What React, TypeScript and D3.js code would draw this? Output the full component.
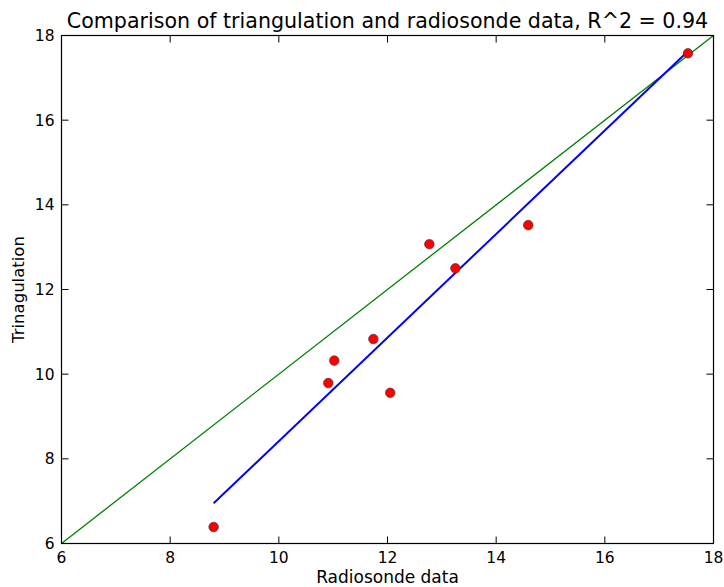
import React from "react";
import * as d3 from "d3";

const radiosonde = [8.80, 10.91, 11.02, 11.74, 12.05, 12.77, 13.25, 14.59, 17.53];
const triangulation = [6.39, 9.79, 10.32, 10.83, 9.56, 13.07, 12.50, 13.52, 17.58];
const fitX = [8.80, 17.53];
const fitY = [6.95, 17.63];
const identityX = [6, 18];
const identityY = [6, 18];
const xTicks = [6, 8, 10, 12, 14, 16, 18];
const yTicks = [6, 8, 10, 12, 14, 16, 18];
const title = "Comparison of triangulation and radiosonde data, R^2 = 0.94";
const xLabel = "Radiosonde data";
const yLabel = "Trinagulation";

const W = 724, H = 587;
const L = 61.5, R = 713.5, T = 35.5, B = 543.5;
const FONT = "'DejaVu Sans', Verdana, sans-serif";

export default function App() {
  const x = d3.scaleLinear().domain([6, 18]).range([L, R]);
  const y = d3.scaleLinear().domain([6, 18]).range([B, T]);
  const line = d3.line<[number, number]>().x(d => x(d[0])).y(d => y(d[1]));
  const fit = fitX.map((v, i) => [v, fitY[i]] as [number, number]);
  const ident = identityX.map((v, i) => [v, identityY[i]] as [number, number]);
  const tl = 7;
  return (
    <svg width={W} height={H} style={{ position: "absolute", left: 0, top: 0, background: "#fff" }} fontFamily={FONT}>
      <rect x={0} y={0} width={W} height={H} fill="#fff" />
      <defs>
        <clipPath id="plot"><rect x={L} y={T} width={R - L} height={B - T} /></clipPath>
      </defs>
      <g clipPath="url(#plot)">
        <path d={line(ident) || ""} stroke="#008000" strokeWidth={1.3} fill="none" />
        <path d={line(fit) || ""} stroke="#0000ff" strokeWidth={2} fill="none" />
        {radiosonde.map((v, i) => (
          <circle key={i} cx={x(v)} cy={y(triangulation[i])} r={4.8} fill="#ff0000" stroke="#333" strokeWidth={0.6} />
        ))}
      </g>
      <rect x={L} y={T} width={R - L} height={B - T} fill="none" stroke="#000" strokeWidth={1.2} />
      {xTicks.map(t => (
        <g key={"x" + t}>
          <line x1={x(t)} x2={x(t)} y1={B} y2={B - tl} stroke="#000" />
          <line x1={x(t)} x2={x(t)} y1={T} y2={T + tl} stroke="#000" />
          <text x={x(t)} y={B + 19} textAnchor="middle" fontSize={15.5} fill="#000">{t}</text>
        </g>
      ))}
      {yTicks.map(t => (
        <g key={"y" + t}>
          <line x1={L} x2={L + tl} y1={y(t)} y2={y(t)} stroke="#000" />
          <line x1={R} x2={R - tl} y1={y(t)} y2={y(t)} stroke="#000" />
          <text x={L - 7} y={y(t) + 5.5} textAnchor="end" fontSize={15.5} fill="#000">{t}</text>
        </g>
      ))}
      <text x={(L + R) / 2} y={28} textAnchor="middle" fontSize={20.6} fill="#000">{title}</text>
      <text x={(L + R) / 2} y={583} textAnchor="middle" fontSize={17} fill="#000">{xLabel}</text>
      <text transform={`translate(24,${(T + B) / 2}) rotate(-90)`} textAnchor="middle" fontSize={16.5} fill="#000">{yLabel}</text>
    </svg>
  );
}
